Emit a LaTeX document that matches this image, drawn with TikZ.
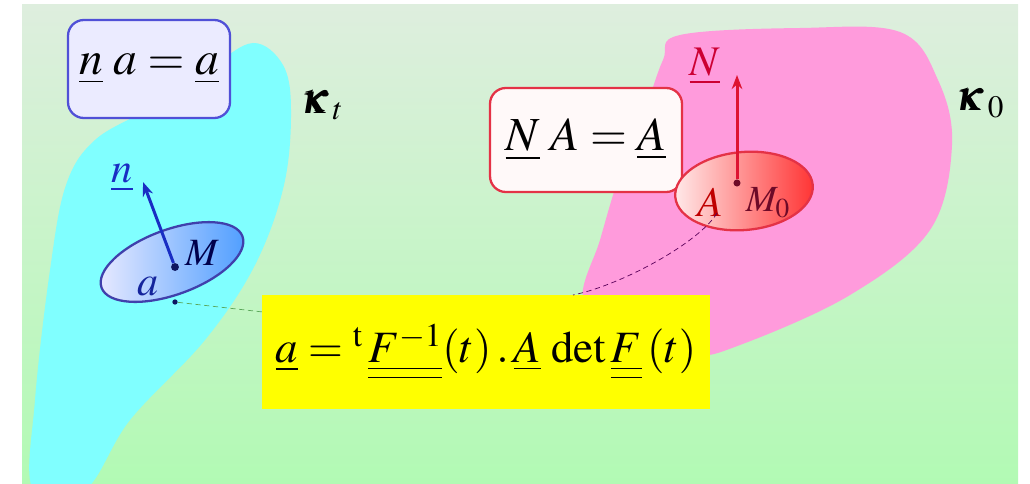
\documentclass[tikz,border=0pt]{standalone}
\usepackage{mathptmx}
\usepackage{bm}
\usetikzlibrary{shapes.geometric,arrows.meta}

\definecolor{bgtop}{RGB}{222,238,222}
\definecolor{bgbot}{RGB}{178,250,180}
\definecolor{cyanblob}{RGB}{128,255,255}
\definecolor{pinkblob}{RGB}{255,155,220}
\definecolor{yelbox}{RGB}{255,255,0}
\definecolor{bluedge}{RGB}{80,80,215}
\definecolor{rededge}{RGB}{228,50,70}
\definecolor{bluevec}{RGB}{25,45,195}
\definecolor{redvec}{RGB}{222,20,50}
\definecolor{darkred}{RGB}{110,10,40}

\begin{document}
\begin{tikzpicture}[
  x=0.02cm, y=-0.02cm,
  eqbox/.style={draw, rounded corners=9pt, line width=1.3pt, inner sep=0pt,
    font=\fontsize{27}{32}\selectfont},
  patch/.style={ellipse, line width=1.3pt, inner sep=0pt},
  pt/.style={circle, fill, inner sep=0pt, minimum size=4.5pt},
  lbl/.style={inner sep=1pt, font=\fontsize{24}{28}\selectfont},
  vec/.style={line width=1.7pt, -{Stealth[length=8pt, width=6pt]}},
  link/.style={thin, densely dashed}
]
\useasboundingbox (0,0) rectangle (1030,483);
% ---------------- background and the two domains ---------------------------
\shade[top color=bgtop, bottom color=bgbot] (22,5) rectangle (1018,483);
\begin{scope}
  \clip (22,5) rectangle (1018,483);
  \fill[cyanblob] plot[smooth cycle, tension=0.6] coordinates {(253,43) (283,65) (291,110)
    (284,185) (255,265) (205,340) (130,420) (85,490) (33,490) (35,400) (50,270)
    (66,185) (95,140) (150,108) (210,68)};
  \fill[pinkblob] plot[smooth cycle, tension=0.6] coordinates {(680,35) (800,28) (900,32)
    (938,80) (952,145) (930,230) (850,295) (740,345) (690,355) (620,335) (583,300)
    (600,240) (618,180) (645,110) (663,60)};
\end{scope}
% ---------------- left: current configuration ------------------------------
\node[eqbox, draw=bluedge, fill=white!92!blue, minimum width=3.24cm,
  minimum height=1.96cm] (eqK) at (149,69) {$\underline{n}\;a=\underline{a}$};
\node[lbl] (Kt) at (322,105) {$\bm{\kappa}_{\,t}$};
\node[patch, draw=bluedge!80!black, minimum width=3cm, minimum height=1.3cm, rotate=20,
  left color=blue!8!white, right color=blue!55!cyan!70!white] (ellM) at (172,262) {};
\node[pt, fill=bluevec!50!black] (M) at (175,267) {};
\node[pt, minimum size=3pt, fill=bluevec!50!black] (adot) at (175,302) {};
\coordinate (ntip) at (143,182);
\draw[vec, bluevec] (M) -- (ntip);
\node[lbl, text=bluevec] (nlbl) at (122,178) {$\underline{n}$};
\node[lbl, font=\fontsize{22}{26}\selectfont, text=blue!30!black] (Mlbl) at (202,253) {$M$};
\node[lbl, text=bluevec!80!black] (albl) at (148,287) {$a$};
% ---------------- right: reference configuration ----------------------------
\node[eqbox, draw=rededge, fill=white!90!pink, minimum width=3.84cm,
  minimum height=2.08cm] (eqK0) at (586,140) {$\underline{N}\;A=\underline{A}$};
\node[lbl] (K0) at (980,103) {$\bm{\kappa}_{\,0}$};
\node[patch, draw=rededge, minimum width=2.76cm, minimum height=1.56cm, rotate=5,
  left color=red!8!white, right color=red!80!white] (ellM0) at (744,191) {};
\node[pt, minimum size=4pt, fill=darkred] (M0) at (737,183) {};
\coordinate (Ntip) at (737,75);
\draw[vec, redvec] (M0) -- (Ntip);
\node[lbl, text=red!60!violet] (Nlbl) at (705,66) {$\underline{N}$};
\node[lbl, text=red!75!black] (Albl) at (710,202) {$A$};
\node[lbl, font=\fontsize{21}{25}\selectfont, text=darkred] (M0lbl) at (768,203) {$M_0$};
% ---------------- transport formula -----------------------------------------
\node[fill=yelbox, minimum width=8.96cm, minimum height=2.3cm, inner sep=0pt,
  font=\fontsize{25.5}{30}\selectfont] (ybox) at (486,352)
  {$\underline{a}={}^{\mathrm{t}}\,\underline{\underline{F^{-1}}}(t)\,.\,\underline{A}\,\det\underline{\underline{F}}\,(t)$};
\coordinate (yL) at (263,312);
\coordinate (yT) at (573,295);
\coordinate (Afoot) at (717,213);
\draw[link, gray!70!green] (adot) -- (yL);
\draw[link, violet!70!black] (Afoot) .. controls (700,242) and (622,285) .. (yT);
\end{tikzpicture}
\end{document}
